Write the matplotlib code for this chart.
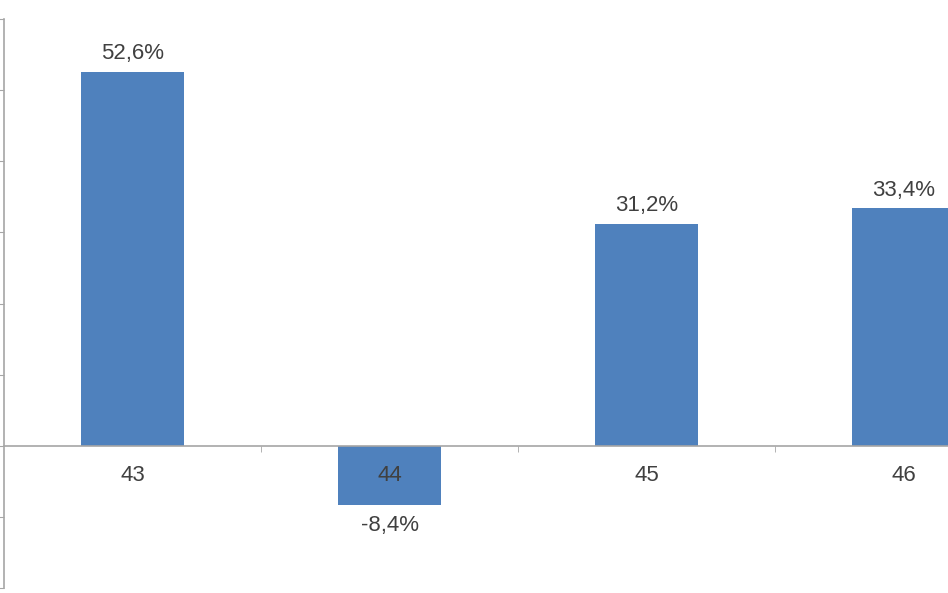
import matplotlib.pyplot as plt
from matplotlib.ticker import MultipleLocator

# ----- data -----
categories = ["43", "44", "45", "46"]
values = [52.6, -8.4, 31.2, 33.4]

BAR_COLOR = "#4F81BD"
AXIS_COLOR = "#a6a6a6"
TEXT_COLOR = "#404040"

plt.rcParams["font.family"] = ["Liberation Sans", "DejaVu Sans"]

fig = plt.figure(figsize=(9.48, 5.93), dpi=100)
# axes deliberately runs to the right edge (chart looks cropped there)
ax = fig.add_axes([4 / 948, 5 / 593, 944 / 948, 569 / 593])

x = list(range(len(categories)))
ax.bar(x, values, width=0.4, color=BAR_COLOR, zorder=1)

ax.set_ylim(-20, 60)
ax.set_xlim(-0.5, -0.5 + 944 / 257)

# value labels, comma decimal
for xi, v in zip(x, values):
    txt = f"{v:.1f}%".replace(".", ",")
    if v >= 0:
        ax.annotate(txt, (xi, v), xytext=(0, 5.5), textcoords="offset points",
                    ha="center", va="bottom", fontsize=16, color=TEXT_COLOR)
    else:
        ax.annotate(txt, (xi, v), xytext=(0, -6.5), textcoords="offset points",
                    ha="center", va="top", fontsize=16, color=TEXT_COLOR)

# axes styling
for s in ["top", "right"]:
    ax.spines[s].set_visible(False)
ax.spines["bottom"].set_position(("data", 0))
ax.spines["bottom"].set_color(AXIS_COLOR)
ax.spines["left"].set_color(AXIS_COLOR)
ax.spines["bottom"].set_linewidth(1.2)
ax.spines["left"].set_linewidth(1.2)

ax.yaxis.set_major_locator(MultipleLocator(10))
ax.tick_params(axis="y", which="major", length=4, color=AXIS_COLOR,
               labelleft=False)

ax.set_xticks(x)
ax.set_xticklabels(categories, fontsize=16, color=TEXT_COLOR)
ax.set_xticks([i + 0.5 for i in x[:-1]], minor=True)
ax.tick_params(axis="x", which="major", length=0, pad=14)
ax.tick_params(axis="x", which="minor", length=4, color=AXIS_COLOR,
               direction="out")

fig.savefig("out.png", dpi=100)
